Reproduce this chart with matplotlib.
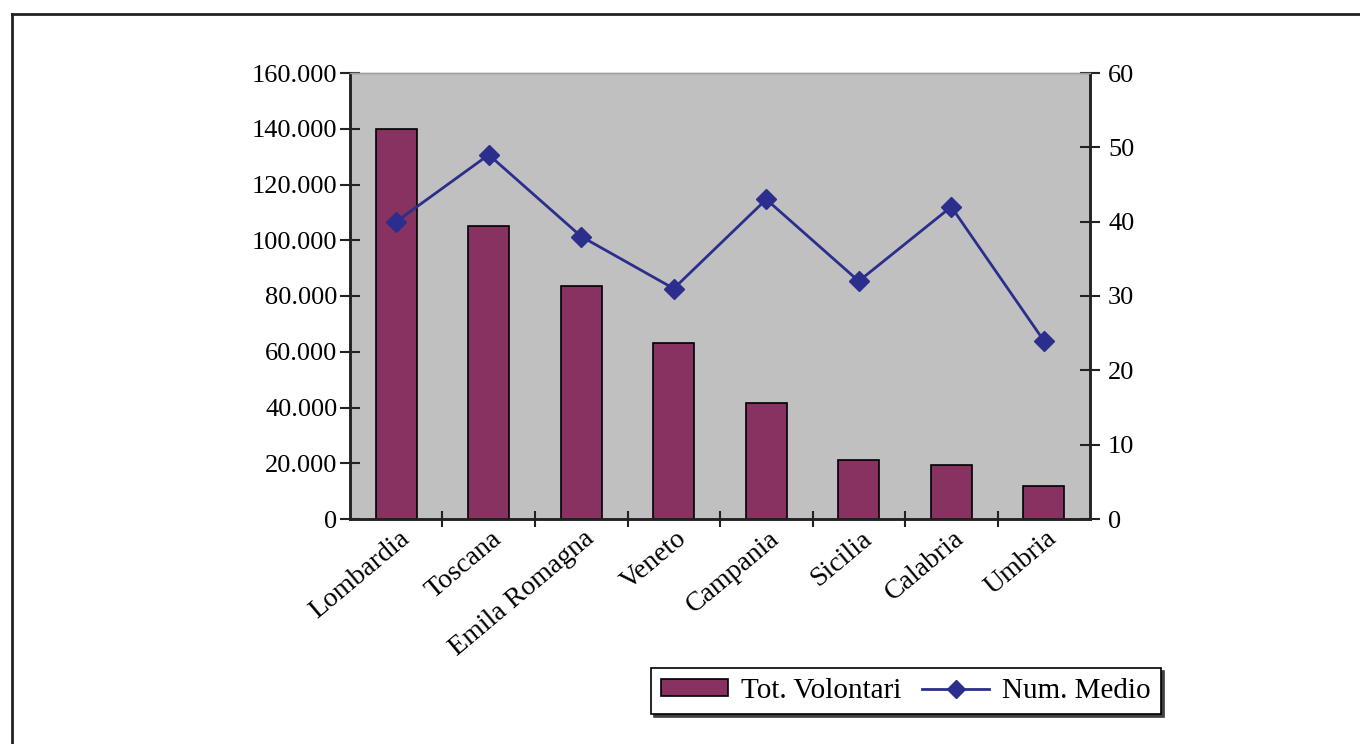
import matplotlib.pyplot as plt
import numpy as np
import matplotlib.transforms as mtransforms
from matplotlib.ticker import FuncFormatter, FixedLocator, MultipleLocator
from matplotlib.lines import Line2D

regioni = ["Lombardia", "Toscana", "Emila Romagna", "Veneto",
           "Campania", "Sicilia", "Calabria", "Umbria"]
tot_volontari = [140000, 105000, 83500, 63000, 41500, 21000, 19500, 12000]
num_medio = [40, 49, 38, 31, 43, 32, 42, 24]

bar_col = "#873260"
line_col = "#2B2E8C"

plt.rcParams["font.family"] = ["Liberation Serif", "DejaVu Serif"]
plt.rcParams["font.size"] = 19

fig = plt.figure(figsize=(13.6, 7.44), dpi=100)
ax = fig.add_axes([350 / 1360, 1 - 519 / 744, 740 / 1360, 446 / 744])
ax.set_facecolor("#C0C0C0")

x = np.arange(len(regioni))
ax.bar(x, tot_volontari, width=0.44, color=bar_col, edgecolor="black",
       linewidth=1.2, zorder=2)
ax.set_xlim(-0.5, len(regioni) - 0.5)
ax.set_ylim(0, 160000)
ax.yaxis.set_major_locator(MultipleLocator(20000))
ax.yaxis.set_major_formatter(FuncFormatter(
    lambda v, p: f"{int(v):,}".replace(",", ".")))

ax.set_xticks(x)
ax.set_xticklabels(regioni, rotation=40, ha="right", va="center",
                   rotation_mode="anchor", fontsize=20)
ax.tick_params(axis="x", which="major", length=0, pad=12)
shift = mtransforms.ScaledTranslation(10 / 100, 0, fig.dpi_scale_trans)
for lab in ax.get_xticklabels():
    lab.set_transform(lab.get_transform() + shift)
ax.xaxis.set_minor_locator(FixedLocator(np.arange(0.5, len(regioni) - 0.5, 1)))
ax.tick_params(axis="x", which="minor", length=11, width=1.5,
               direction="inout", color="#222222")
ax.tick_params(axis="y", length=14, width=1.5, direction="inout",
               color="#222222", pad=2)

ax2 = ax.twinx()
ax2.plot(x, num_medio, color=line_col, linewidth=2, marker="D",
         markersize=10, markerfacecolor=line_col, markeredgecolor=line_col,
         zorder=3)
ax2.set_ylim(0, 60)
ax2.yaxis.set_major_locator(MultipleLocator(10))
ax2.tick_params(axis="y", length=14, width=1.5, direction="inout",
                color="#222222", pad=6)

for a in (ax, ax2):
    a.spines["top"].set_color("#A0A0A0")
    a.spines["top"].set_linewidth(1)
    for s in ("left", "right", "bottom"):
        a.spines[s].set_linewidth(1.8)
        a.spines[s].set_color("#222222")

# legend under the chart
handles = [
    plt.Rectangle((0, 0), 1, 1, facecolor=bar_col, edgecolor="black",
                  linewidth=1.2),
    Line2D([], [], color=line_col, linewidth=2, marker="D", markersize=9,
           markerfacecolor=line_col, markeredgecolor=line_col),
]
leg = fig.legend(handles, ["Tot. Volontari", "Num. Medio"], loc="center",
                 bbox_to_anchor=(906 / 1360, 1 - 691 / 744), ncol=2,
                 frameon=True, fancybox=False,
                 shadow={"color": "0.25", "alpha": 1},
                 handlelength=2.3, handleheight=0.5, columnspacing=0.7,
                 handletextpad=0.45, borderpad=0.35, borderaxespad=0,
                 fontsize=21)
leg.get_frame().set_edgecolor("black")
leg.get_frame().set_linewidth(1.2)

# outer frame (top and left edges)
fig.add_artist(Line2D([12 / 1360, 1], [1 - 14 / 744, 1 - 14 / 744],
                      color="#222222", linewidth=2, transform=fig.transFigure))
fig.add_artist(Line2D([12 / 1360, 12 / 1360], [0, 1 - 14 / 744],
                      color="#222222", linewidth=2, transform=fig.transFigure))

fig.savefig("out.png", dpi=100)
